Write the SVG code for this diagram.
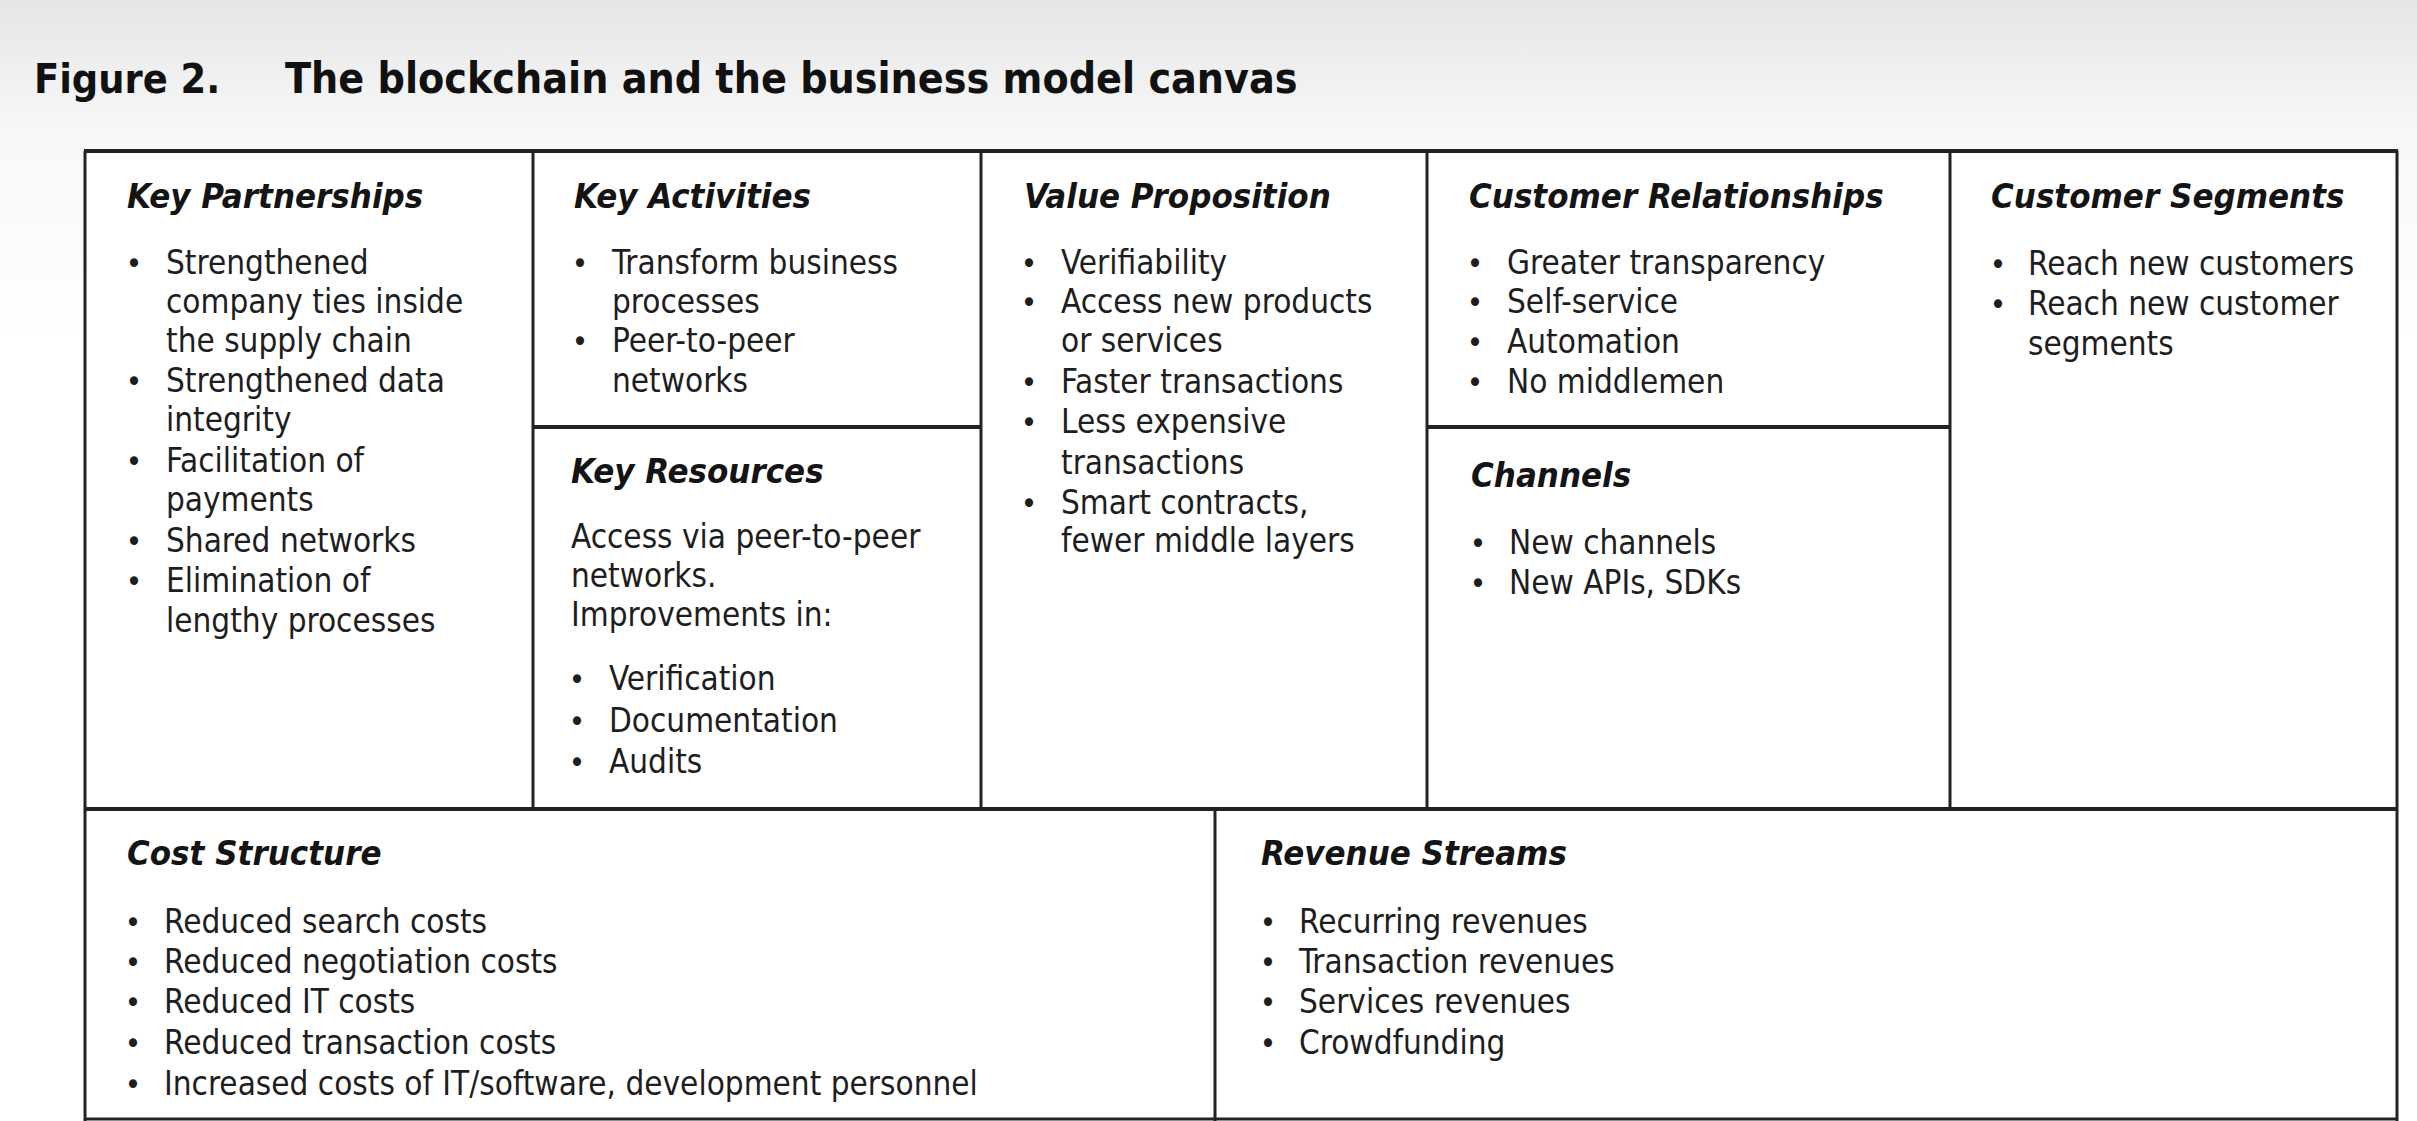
<svg xmlns="http://www.w3.org/2000/svg" width="2417" height="1121" viewBox="0 0 2417 1121">
<defs>
<linearGradient id="bg" x1="0" y1="0" x2="0" y2="1">
<stop offset="0" stop-color="#e6e6e6"/>
<stop offset="0.12" stop-color="#f8f8f8"/>
<stop offset="0.3" stop-color="#ffffff"/>
</linearGradient>
</defs>
<style>
.t{font-family:"DejaVu Sans Condensed","DejaVu Sans",sans-serif;font-size:33px;fill:#1e1e1e}
.h{font-family:"DejaVu Sans Condensed","DejaVu Sans",sans-serif;font-size:34.5px;font-weight:bold;font-style:italic;fill:#141414}
.b{font-family:"DejaVu Sans Condensed","DejaVu Sans",sans-serif;font-size:31px;fill:#1e1e1e;text-anchor:middle}
.fig{font-family:"DejaVu Sans Condensed","DejaVu Sans",sans-serif;font-size:41px;font-weight:bold;fill:#111}
.ln{stroke:#222;stroke-width:3;fill:none}
.thick{stroke:#222;stroke-width:4;fill:none}
</style>
<rect x="0" y="0" width="2417" height="1121" fill="url(#bg)"/>
<text class="fig" x="34" y="93">Figure 2.</text>
<text class="fig" x="285" y="93" style="font-size:42.5px">The blockchain and the business model canvas</text>
<rect x="85" y="151" width="2312" height="969" fill="#fff"/>
<g id="connectors">
<line class="thick" x1="84" y1="151" x2="2398" y2="151"/>
<line class="ln" x1="85" y1="151" x2="85" y2="1121"/>
<line class="ln" x1="2397" y1="151" x2="2397" y2="1121"/>
<line class="thick" x1="84" y1="809" x2="2398" y2="809"/>
<line class="ln" x1="533" y1="151" x2="533" y2="809"/>
<line class="ln" x1="981" y1="151" x2="981" y2="809"/>
<line class="ln" x1="1427" y1="151" x2="1427" y2="809"/>
<line class="ln" x1="1950" y1="151" x2="1950" y2="809"/>
<line class="thick" x1="533" y1="427" x2="981" y2="427"/>
<line class="thick" x1="1427" y1="427" x2="1950" y2="427"/>
<line class="ln" x1="1215" y1="809" x2="1215" y2="1121"/>
<line class="ln" x1="84" y1="1119" x2="2398" y2="1119"/>
</g>
<g id="key-partnerships">
<text class="h" x="127" y="208">Key Partnerships</text>
<text class="b" x="134" y="274">•</text><text class="t" x="166" y="274">Strengthened</text>
<text class="t" x="166" y="313">company ties inside</text>
<text class="t" x="166" y="352">the supply chain</text>
<text class="b" x="134" y="392">•</text><text class="t" x="166" y="392">Strengthened data</text>
<text class="t" x="166" y="431">integrity</text>
<text class="b" x="134" y="472">•</text><text class="t" x="166" y="472">Facilitation of</text>
<text class="t" x="166" y="511">payments</text>
<text class="b" x="134" y="552">•</text><text class="t" x="166" y="552">Shared networks</text>
<text class="b" x="134" y="592">•</text><text class="t" x="166" y="592">Elimination of</text>
<text class="t" x="166" y="632">lengthy processes</text>
</g>
<g id="key-activities">
<text class="h" x="574" y="208">Key Activities</text>
<text class="b" x="580" y="274">•</text><text class="t" x="612" y="274">Transform business</text>
<text class="t" x="612" y="313">processes</text>
<text class="b" x="580" y="352">•</text><text class="t" x="612" y="352">Peer-to-peer</text>
<text class="t" x="612" y="392">networks</text>
</g>
<g id="key-resources">
<text class="h" x="571" y="483">Key Resources</text>
<text class="t" x="571" y="548">Access via peer-to-peer</text>
<text class="t" x="571" y="587">networks.</text>
<text class="t" x="571" y="626">Improvements in:</text>
<text class="b" x="577" y="690">•</text><text class="t" x="609" y="690">Verification</text>
<text class="b" x="577" y="732">•</text><text class="t" x="609" y="732">Documentation</text>
<text class="b" x="577" y="773">•</text><text class="t" x="609" y="773">Audits</text>
</g>
<g id="value-proposition">
<text class="h" x="1024" y="208">Value Proposition</text>
<text class="b" x="1029" y="274">•</text><text class="t" x="1061" y="274">Verifiability</text>
<text class="b" x="1029" y="313">•</text><text class="t" x="1061" y="313">Access new products</text>
<text class="t" x="1061" y="352">or services</text>
<text class="b" x="1029" y="393">•</text><text class="t" x="1061" y="393">Faster transactions</text>
<text class="b" x="1029" y="433">•</text><text class="t" x="1061" y="433">Less expensive</text>
<text class="t" x="1061" y="474">transactions</text>
<text class="b" x="1029" y="514">•</text><text class="t" x="1061" y="514">Smart contracts,</text>
<text class="t" x="1061" y="552">fewer middle layers</text>
</g>
<g id="customer-relationships">
<text class="h" x="1469" y="208">Customer Relationships</text>
<text class="b" x="1475" y="274">•</text><text class="t" x="1507" y="274">Greater transparency</text>
<text class="b" x="1475" y="313">•</text><text class="t" x="1507" y="313">Self-service</text>
<text class="b" x="1475" y="353">•</text><text class="t" x="1507" y="353">Automation</text>
<text class="b" x="1475" y="393">•</text><text class="t" x="1507" y="393">No middlemen</text>
</g>
<g id="channels">
<text class="h" x="1471" y="487">Channels</text>
<text class="b" x="1478" y="554">•</text><text class="t" x="1509" y="554">New channels</text>
<text class="b" x="1478" y="594">•</text><text class="t" x="1509" y="594">New APIs, SDKs</text>
</g>
<g id="customer-segments">
<text class="h" x="1991" y="208">Customer Segments</text>
<text class="b" x="1998" y="275">•</text><text class="t" x="2028" y="275">Reach new customers</text>
<text class="b" x="1998" y="315">•</text><text class="t" x="2028" y="315">Reach new customer</text>
<text class="t" x="2028" y="355">segments</text>
</g>
<g id="cost-structure">
<text class="h" x="127" y="865">Cost Structure</text>
<text class="b" x="133" y="933">•</text><text class="t" x="164" y="933">Reduced search costs</text>
<text class="b" x="133" y="973">•</text><text class="t" x="164" y="973">Reduced negotiation costs</text>
<text class="b" x="133" y="1013">•</text><text class="t" x="164" y="1013">Reduced IT costs</text>
<text class="b" x="133" y="1054">•</text><text class="t" x="164" y="1054">Reduced transaction costs</text>
<text class="b" x="133" y="1095">•</text><text class="t" x="164" y="1095">Increased costs of IT/software, development personnel</text>
</g>
<g id="revenue-streams">
<text class="h" x="1261" y="865">Revenue Streams</text>
<text class="b" x="1268" y="933">•</text><text class="t" x="1299" y="933">Recurring revenues</text>
<text class="b" x="1268" y="973">•</text><text class="t" x="1299" y="973">Transaction revenues</text>
<text class="b" x="1268" y="1013">•</text><text class="t" x="1299" y="1013">Services revenues</text>
<text class="b" x="1268" y="1054">•</text><text class="t" x="1299" y="1054">Crowdfunding</text>
</g>
</svg>
